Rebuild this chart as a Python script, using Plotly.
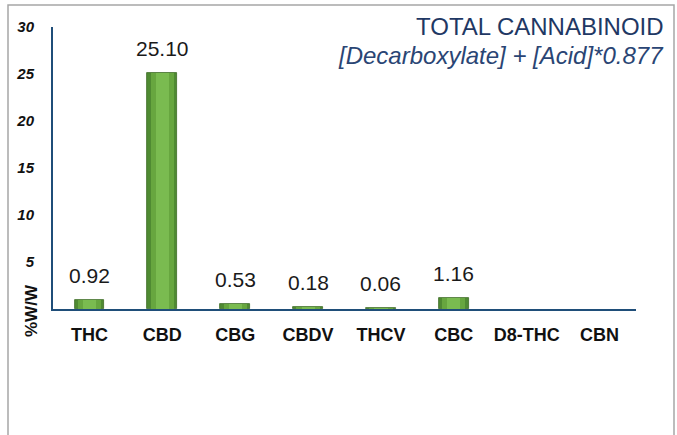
import plotly.graph_objects as go

categories = ["THC", "CBD", "CBG", "CBDV", "THCV", "CBC", "D8-THC", "CBN"]
values = [0.92, 25.10, 0.53, 0.18, 0.06, 1.16, None, None]
value_labels = ["0.92", "25.10", "0.53", "0.18", "0.06", "1.16", "", ""]
y_ticks = [5, 10, 15, 20, 25, 30]

W, H = 677, 435
L, R, T, B = 53, 41, 27, 126
pw, ph = W - L - R, H - T - B

def px_x(x):
    return (x - L) / pw

def px_y(y):
    return (H - B - y) / ph

fig = go.Figure()
layers = [
    (0.41, "#4f8a32", dict(color="#3d6b24", width=0.8)),
    (0.32, "#67a63f", dict(width=0)),
    (0.18, "#7abb50", dict(width=0)),
]
for w, c, ln in layers:
    fig.add_trace(go.Bar(
        x=categories, y=values, width=w,
        marker=dict(color=c, line=ln),
        hoverinfo="skip", showlegend=False,
    ))

for cat, v, lab in zip(categories, values, value_labels):
    if v is None:
        continue
    fig.add_annotation(
        x=cat, y=v, text=lab, showarrow=False,
        yanchor="bottom", yshift=11,
        font=dict(family="Liberation Sans, Arial", size=21, color="#1a1a1a"),
    )

fig.add_annotation(
    xref="paper", yref="paper", x=px_x(666), y=px_y(26.5),
    xanchor="right", yanchor="middle", showarrow=False,
    text="TOTAL CANNABINOID",
    font=dict(family="Liberation Sans, Arial", size=24, color="#1f3864"),
)
fig.add_annotation(
    xref="paper", yref="paper", x=px_x(666), y=px_y(55),
    xanchor="right", yanchor="middle", showarrow=False,
    text="<i>[Decarboxylate] + [Acid]*0.877</i>",
    font=dict(family="Liberation Sans, Arial", size=24, color="#2a4574"),
)
fig.add_annotation(
    xref="paper", yref="paper", x=px_x(31), y=px_y(311),
    xanchor="center", yanchor="middle", showarrow=False, textangle=-90,
    text="<b>%W/W</b>",
    font=dict(family="Liberation Sans, Arial", size=17, color="#111111"),
)

fig.add_shape(
    type="rect", xref="paper", yref="paper",
    x0=px_x(8), x1=px_x(674), y0=px_y(450), y1=px_y(5),
    line=dict(color="#a6a6a6", width=1.5), fillcolor="rgba(0,0,0,0)", layer="below",
)

fig.update_layout(
    width=W, height=H,
    margin=dict(l=L, r=R, t=T, b=B),
    paper_bgcolor="white", plot_bgcolor="white",
    barmode="overlay", bargap=0,
    xaxis=dict(
        showline=True, linecolor="#1f4e79", linewidth=2,
        showgrid=False, zeroline=False, ticks="",
        tickfont=dict(family="Liberation Sans, Arial", size=18, color="#111111", weight="bold"),
        ticklabelstandoff=8,
    ),
    yaxis=dict(
        range=[0, 30], showline=True, linecolor="#1f4e79", linewidth=2,
        showgrid=False, zeroline=False, ticks="",
        tickvals=y_ticks, ticktext=[f"<b><i>{t}</i></b>" for t in y_ticks],
        tickfont=dict(family="Liberation Sans, Arial", size=15, color="#111111"),
        ticklabelstandoff=14,
    ),
)

fig.write_html(
    "out.html",
    config={"displayModeBar": False},
    post_script="document.body.style.margin='0px';",
)
